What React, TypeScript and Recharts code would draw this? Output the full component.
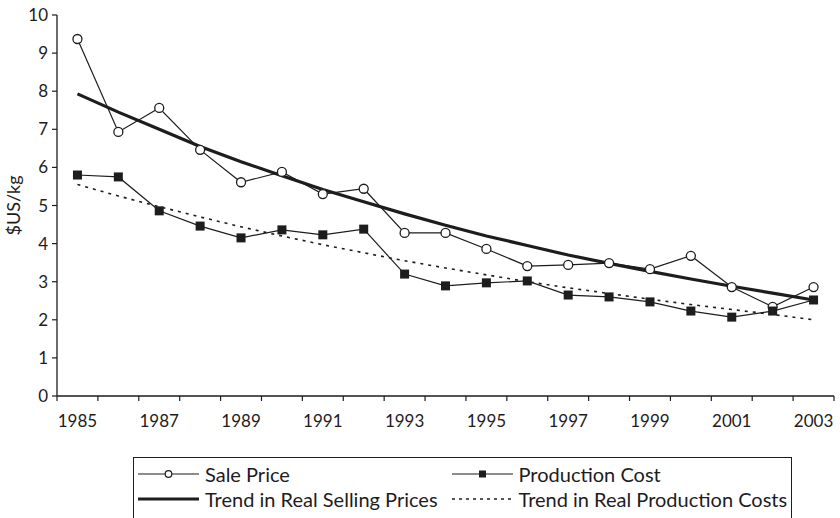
import React from "react";
import { ComposedChart, Line, XAxis, YAxis, Legend } from "recharts";

const years = [
  "1985", "1986", "1987", "1988", "1989", "1990", "1991", "1992", "1993", "1994",
  "1995", "1996", "1997", "1998", "1999", "2000", "2001", "2002", "2003",
];
const salePrice = [
  9.37, 6.93, 7.56, 6.46, 5.61, 5.88, 5.3, 5.44, 4.28, 4.28,
  3.86, 3.41, 3.44, 3.49, 3.33, 3.68, 2.86, 2.34, 2.86,
];
const productionCost = [
  5.8, 5.75, 4.86, 4.46, 4.15, 4.36, 4.23, 4.38, 3.2, 2.89,
  2.97, 3.02, 2.65, 2.6, 2.47, 2.23, 2.07, 2.23, 2.52,
];
const trendSelling = [
  7.93, 7.45, 7.0, 6.55, 6.15, 5.78, 5.42, 5.1, 4.78, 4.48,
  4.2, 3.95, 3.7, 3.48, 3.27, 3.07, 2.88, 2.7, 2.52,
];
const trendProduction = [
  5.55, 5.25, 4.97, 4.7, 4.44, 4.2, 3.97, 3.76, 3.55, 3.36,
  3.18, 3.0, 2.84, 2.69, 2.54, 2.4, 2.27, 2.14, 2.0,
];
const yTicks = [0, 1, 2, 3, 4, 5, 6, 7, 8, 9, 10];

const data = years.map((year, i) => ({
  year,
  sale: salePrice[i],
  cost: productionCost[i],
  trendSale: trendSelling[i],
  trendCost: trendProduction[i],
}));

const INK = "#1e1c1d";
const FONT = "Lato, 'Open Sans', sans-serif";

const legendRows = [
  ["sale", "cost"],
  ["trendSale", "trendCost"],
];

function CircleDot(props: any) {
  const { cx, cy, index } = props;
  if (cx == null || cy == null) return null;
  return <circle key={`c-${index}`} cx={cx} cy={cy} r={4.5} fill="#fff" stroke={INK} strokeWidth={1.3} />;
}

function SquareDot(props: any) {
  const { cx, cy, index } = props;
  if (cx == null || cy == null) return null;
  return <rect key={`s-${index}`} x={cx - 4.5} y={cy - 4.5} width={9} height={9} fill={INK} />;
}

function YearTick(props: any) {
  const { x, y, payload, index } = props;
  const half = payload && payload.offset ? payload.offset : 20.45;
  const last = index === years.length - 1;
  return (
    <g>
      <line x1={x - half} y1={y} x2={x - half} y2={y + 5} stroke={INK} strokeWidth={1.2} />
      {last && <line x1={x + half} y1={y} x2={x + half} y2={y + 5} stroke={INK} strokeWidth={1.2} />}
      {index % 2 === 0 && (
        <text x={x} y={y + 31} textAnchor="middle" fill={INK} fontSize={17} fontFamily={FONT}>
          {payload.value}
        </text>
      )}
    </g>
  );
}

function LegendSymbol({ k }: { k: string }) {
  const w = 61;
  const mid = w / 2;
  return (
    <svg width={w} height={12} style={{ display: "block", marginRight: 6 }}>
      {k === "sale" && (
        <>
          <line x1={0} y1={6} x2={w} y2={6} stroke={INK} strokeWidth={1.2} />
          <circle cx={mid} cy={6} r={3.3} fill="#fff" stroke={INK} strokeWidth={1.2} />
        </>
      )}
      {k === "cost" && (
        <>
          <line x1={0} y1={6} x2={w} y2={6} stroke={INK} strokeWidth={1.2} />
          <rect x={mid - 3.5} y={2.5} width={7} height={7} fill={INK} />
        </>
      )}
      {k === "trendSale" && <line x1={0} y1={6} x2={w} y2={6} stroke={INK} strokeWidth={3} />}
      {k === "trendCost" && (
        <line x1={0} y1={6} x2={w} y2={6} stroke={INK} strokeWidth={1.5} strokeDasharray="3 4" />
      )}
    </svg>
  );
}

function BoxLegend(props: any) {
  const { payload } = props;
  const names: Record<string, string> = {};
  (payload || []).forEach((p: any) => {
    names[p.dataKey] = p.value;
  });
  return (
    <div
      style={{
        border: `1px solid ${INK}`,
        width: 659,
        height: 75,
        boxSizing: "border-box",
        paddingTop: 3,
        fontFamily: FONT,
        fontSize: 20,
        color: INK,
      }}
    >
      {legendRows.map((row, r) => (
        <div key={r} style={{ display: "flex", height: 25, alignItems: "center" }}>
          {row.map((k, c) => (
            <div
              key={k}
              style={{
                display: "flex",
                alignItems: "center",
                width: c === 0 ? 314 : 340,
                paddingLeft: c === 0 ? 4 : 0,
                whiteSpace: "nowrap",
              }}
            >
              <LegendSymbol k={k} />
              <span>{names[k]}</span>
            </div>
          ))}
        </div>
      ))}
    </div>
  );
}

export default function App() {
  return (
    <div style={{ position: "absolute", left: 0, top: 0, width: 840, height: 518, background: "#fff", overflow: "hidden" }}>
      <ComposedChart width={840} height={518} data={data} margin={{ top: 15, right: 6, bottom: 92, left: 0 }}>
        <XAxis
          dataKey="year"
          scale="band"
          interval={0}
          tickSize={0}
          tickMargin={0}
          tickLine={false}
          tick={<YearTick />}
          height={30}
          axisLine={{ stroke: INK, strokeWidth: 1.3 }}
        />
        <YAxis
          domain={[0, 10]}
          ticks={yTicks}
          interval={0}
          width={57}
          tickSize={5}
          tickMargin={4}
          tick={{ fill: INK, fontSize: 17, fontFamily: FONT }}
          tickLine={{ stroke: INK, strokeWidth: 1.2 }}
          axisLine={{ stroke: INK, strokeWidth: 1.3 }}
          label={{
            value: "$US/kg",
            angle: -90,
            position: "insideLeft",
            offset: 14,
            style: { textAnchor: "middle", fill: INK, fontSize: 18, fontFamily: FONT },
          }}
        />
        <Legend
          layout="horizontal"
          verticalAlign="middle"
          align="center"
          content={<BoxLegend />}
          wrapperStyle={{ position: "absolute", left: 133, top: 457, width: 659, height: 75 }}
        />
        <Line
          dataKey="trendSale"
          name="Trend in Real Selling Prices"
          stroke={INK}
          strokeWidth={3.2}
          dot={false}
          activeDot={false}
          isAnimationActive={false}
        />
        <Line
          dataKey="trendCost"
          name="Trend in Real Production Costs"
          stroke={INK}
          strokeWidth={1.6}
          strokeDasharray="3 5"
          dot={false}
          activeDot={false}
          isAnimationActive={false}
        />
        <Line
          dataKey="sale"
          name="Sale Price"
          stroke={INK}
          strokeWidth={1.2}
          dot={<CircleDot />}
          activeDot={false}
          isAnimationActive={false}
        />
        <Line
          dataKey="cost"
          name="Production Cost"
          stroke={INK}
          strokeWidth={1.2}
          dot={<SquareDot />}
          activeDot={false}
          isAnimationActive={false}
        />
      </ComposedChart>
    </div>
  );
}
